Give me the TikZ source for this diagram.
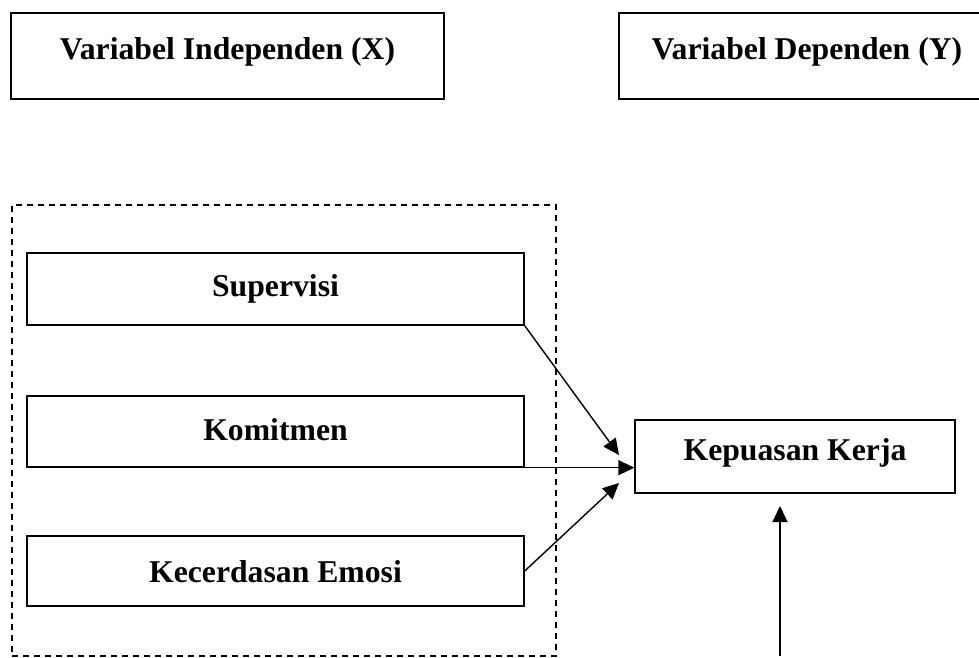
\documentclass[tikz,border=0pt]{standalone}
\usepackage{fontspec}
\setmainfont{Liberation Serif}
\usetikzlibrary{arrows.meta}
\begin{document}
\begin{tikzpicture}[x=1pt,y=-1pt,
  box/.style={draw,line width=1.4pt,inner sep=0pt,text height=22pt,font=\bfseries\fontsize{31.7}{38}\selectfont},
  grpbox/.style={draw,line width=1.3pt,dash pattern=on 6pt off 5pt,inner sep=0pt},
  arr/.style={line width=1.4pt,-{Triangle[length=16pt,width=15pt]}}]
\useasboundingbox (0,0) rectangle (979,658);
\clip (0,0) rectangle (979,658);
\node[box, text depth=15pt, minimum width=433pt, minimum height=86pt] (indep) at (227.5,56) {Variabel Independen (X)};
\node[box, text depth=15pt, minimum width=376pt, minimum height=86pt] (dep) at (807,56) {Variabel Dependen (Y)};
\node[grpbox, minimum width=544pt, minimum height=451pt] (grp) at (284,430.5) {};
\node[box, text depth=8pt, minimum width=497pt, minimum height=72pt] (sup) at (275.5,289) {Supervisi};
\node[box, text depth=5pt, minimum width=497pt, minimum height=71pt] (kom) at (275.5,431.5) {Komitmen};
\node[box, text depth=0pt, minimum width=497pt, minimum height=70pt] (kec) at (275.5,571) {Kecerdasan Emosi};
\node[box, text depth=14pt, minimum width=320pt, minimum height=73pt] (kep) at (795,456.5) {Kepuasan Kerja};
\coordinate (t1) at (619,455);
\coordinate (t3) at (619,483);
\coordinate (b4) at (780,656);
\coordinate (t4) at (780,506);
\draw[arr] (sup.south east) -- (t1);
\draw[arr] (kom.south east) -- (kom.south east -| kep.west);
\draw[arr] (kec.east) -- (t3);
\draw[arr] (b4) -- (t4);
\end{tikzpicture}
\end{document}
